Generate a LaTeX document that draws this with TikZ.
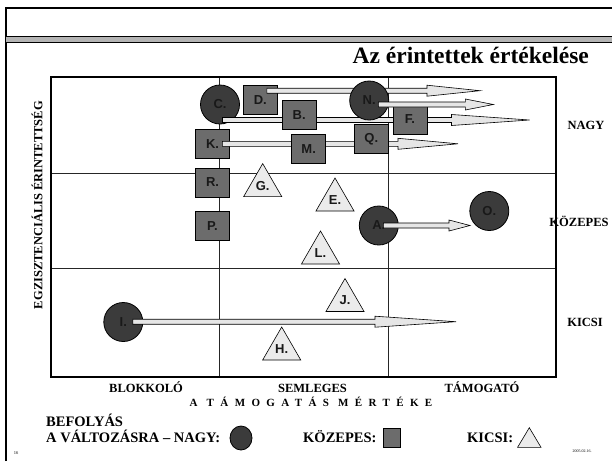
\documentclass[tikz,border=0pt]{standalone}
\usepackage{fontspec}
\setmainfont{Liberation Serif}
\newfontfamily\lsans{Liberation Sans}
\newfontfamily\spacedserif{Liberation Serif}[LetterSpace=58]
\usetikzlibrary{shapes.geometric,calc}
\definecolor{circfill}{HTML}{3B3B3B}
\definecolor{sqfill}{HTML}{6C6C6C}
\definecolor{trifill}{HTML}{EBEBEB}
\definecolor{arrfill}{HTML}{E6E6E6}
\definecolor{barfill}{HTML}{B4B4B4}
\newcommand{\fatarrow}[3]{%
  \path[arrowbody] let \p1=(#1), \p2=(#2) in
    (\x1,\y2+2.5pt) -- (\x2-#3,\y2+2.5pt) -- (\x2-#3,\y2+5.5pt) -- (\x2,\y2)
    -- (\x2-#3,\y2-5.5pt) -- (\x2-#3,\y2-2.5pt) -- (\x1,\y2-2.5pt) -- cycle;}
\tikzset{
  shapelabel/.style={font=\lsans\bfseries\fontsize{13}{15}\selectfont, text=black!90},
  big/.style={circle, draw=black, line width=0.8pt, fill=circfill, minimum size=39pt, inner sep=0pt, shapelabel},
  mid/.style={rectangle, draw=black, line width=0.8pt, fill=sqfill, minimum width=34pt, minimum height=29pt, inner sep=0pt, shapelabel},
  small/.style={regular polygon, regular polygon sides=3, draw=black, line width=0.6pt, fill=trifill, minimum size=44pt, inner sep=0pt, shapelabel},
  arrowbody/.style={draw=black, line width=0.6pt, fill=arrfill, line join=miter},
  axislabel/.style={font=\bfseries\fontsize{12.5}{14}\selectfont, inner sep=0pt},
  legendtext/.style={font=\bfseries\fontsize{14.5}{16}\selectfont, inner sep=0pt, anchor=base west},
  gridline/.style={line width=0.7pt, draw=black!85},
}
\begin{document}
\begin{tikzpicture}[x=1pt,y=-1pt]
\useasboundingbox (0,0) rectangle (612,461);
\fill[white] (0,0) rectangle (612,461);
% frame
\draw[line width=2pt] (6,461) -- (6,8) -- (612,8);
\fill[barfill] (6,36.5) rectangle (612,42.5);
\draw[line width=1pt] (6,36.5) -- (612,36.5);
\draw[line width=1pt] (6,42.5) -- (612,42.5);
% title
\node[anchor=base east, font=\bfseries\fontsize{23.5}{26}\selectfont, inner sep=0pt] (title) at (589,63.5) {Az érintettek értékelése};
% grid
\draw[gridline] (219,77) -- (219,377);
\draw[gridline] (388,77) -- (388,377);
\draw[gridline] (51,173) -- (556,173);
\draw[gridline] (51,268.5) -- (556,268.5);
\draw[line width=1.5pt] (51,77) rectangle (556,377);
% axis labels
\node[axislabel, rotate=90] (ylab) at (37,205) {EGZISZTENCIÁLIS ÉRINTETTSÉG};
\node[axislabel] (nagy) at (586,125) {NAGY};
\node[axislabel] (kozepes) at (579,221) {KÖZEPES};
\node[axislabel] (kicsi) at (585,322.5) {KICSI};
\node[axislabel, anchor=base] (blokk) at (146,392) {BLOKKOLÓ};
\node[axislabel, anchor=base] (seml) at (312.5,392) {SEMLEGES};
\node[axislabel, anchor=base] (tamog) at (482,392) {TÁMOGATÓ};
\node[anchor=base, inner sep=0pt, font=\spacedserif\bfseries\fontsize{11}{13}\selectfont] (xlab) at (311,406.5) {A TÁMOGATÁS MÉRTÉKE};
% left column shapes and lower shapes
\node[big] (C) at (220,104.5) {C.};
\node[mid] (D) at (260.3,100) {D.};
\node[mid] (K) at (212.5,143.8) {K.};
\node[mid] (R) at (212.5,182.5) {R.};
\node[mid] (P) at (212.5,226) {P.};
\node[small] (G) at (262.7,185.6) {G.};
\node[small] (E) at (335,200) {E.};
\node[small] (L) at (320.5,253) {L.};
\node[small] (J) at (345,300.5) {J.};
\node[small] (H) at (281.7,349) {H.};
\node[big] (A) at (378.8,225.5) {A.};
\node[big] (O) at (489.3,211) {O.};
\node[big] (I) at (123.3,322) {I.};
% arrow coordinates
\coordinate (Cs) at ($(C)+(2.5,15.5)$);
\coordinate (Ct) at (529.5,120);
\coordinate (Ds) at ($(D)+(6.5,-9.3)$);
\coordinate (Dt) at (480,90.7);
\coordinate (Ks) at ($(K)+(9.8,0)$);
\coordinate (Kt) at (458,143.8);
\coordinate (As) at ($(A)+(4.5,0)$);
\coordinate (At) at (470,225.5);
\coordinate (Is) at ($(I)+(9.4,0)$);
\coordinate (It) at (456,321.7);
\fatarrow{Cs}{Ct}{78pt}
\fatarrow{Ds}{Dt}{53pt}
\fatarrow{Ks}{Kt}{60pt}
\fatarrow{As}{At}{21pt}
\fatarrow{Is}{It}{81pt}
% shapes over the arrows
\node[mid] (B) at (299.2,114.7) {B.};
\node[mid] (M) at (308.7,148.7) {M.};
\node[mid] (Q) at (371.3,138.8) {Q.};
\node[big] (N) at (369.2,100.5) {N.};
\node[mid] (F) at (410,119.5) {F.};
\coordinate (Ns) at ($(N)+(9.1,4)$);
\coordinate (Nt) at (493.3,104.5);
\fatarrow{Ns}{Nt}{28pt}
% legend
\node[legendtext] (befoly) at (46,426) {BEFOLYÁS};
\node[legendtext] (valtoz) at (46,442) {A VÁLTOZÁSRA – NAGY:};
\draw[line width=0.8pt, fill=circfill] (241,438) ellipse [x radius=11, y radius=12];
\node[legendtext] (lkoz) at (303,442) {KÖZEPES:};
\draw[line width=0.8pt, fill=sqfill] (383,428) rectangle (400.5,447.5);
\node[legendtext] (lkic) at (467,442) {KICSI:};
\draw[line width=0.6pt, fill=trifill] (529.3,427.7) -- (541,447.3) -- (517.6,447.3) -- cycle;
% page number and date
\node[inner sep=0pt, font=\fontsize{4.5}{5}\selectfont] (pnum) at (16,453) {16};
\node[inner sep=0pt, font=\fontsize{4}{5}\selectfont] (date) at (582,451.5) {2005.02.16.};
\end{tikzpicture}
\end{document}
